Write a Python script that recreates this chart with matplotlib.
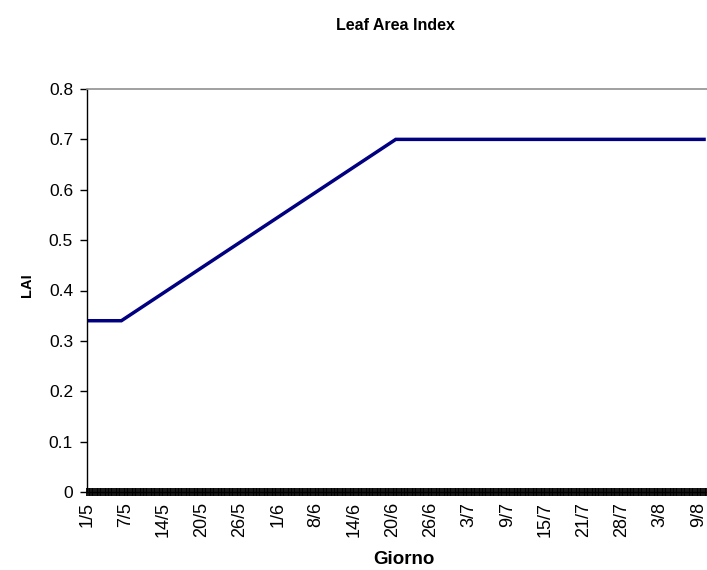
import matplotlib
matplotlib.use("Agg")
import matplotlib.pyplot as plt
import numpy as np

plt.rcParams['font.family'] = ['Liberation Sans', 'DejaVu Sans']

# Tick labels (dates, day/month) placed every 6 categories
date_labels = ["1/5", "7/5", "14/5", "20/5", "26/5", "1/6", "8/6", "14/6",
               "20/6", "26/6", "3/7", "9/7", "15/7", "21/7", "28/7", "3/8", "9/8"]
label_pos = [0, 6, 12, 18, 24, 30, 36, 42, 48, 54, 60, 66, 72, 78, 84, 90, 96]

# LAI curve vertices (category position, LAI)
lai_x = [0.0, 5.4, 48.5, 97.2]
lai_y = [0.34, 0.34, 0.70, 0.70]

yticks = [0, 0.1, 0.2, 0.3, 0.4, 0.5, 0.6, 0.7, 0.8]
ytick_labels = ["0", "0.1", "0.2", "0.3", "0.4", "0.5", "0.6", "0.7", "0.8"]

W, H = 707, 570
fig = plt.figure(figsize=(W / 100, H / 100), dpi=100)
ax = fig.add_axes([87 / W, 1 - 492 / H, (W - 87) / W + 0.01, (492 - 89) / H])

ax.plot(lai_x, lai_y, color="#000080", linewidth=2.5, solid_capstyle="butt",
        solid_joinstyle="miter")

ax.set_xlim(0, 98.5)
ax.set_ylim(0, 0.8)

ax.set_yticks(yticks)
ax.set_yticklabels(ytick_labels, fontsize=12.5)
ax.set_xticks(label_pos)
ax.set_xticklabels(date_labels, rotation=90, fontsize=13)

# dense category tick marks along the x axis
ax.set_xticks(np.arange(0, 98.5, 0.25), minor=True)
ax.tick_params(axis="x", which="both", direction="inout", length=6, width=1.3,
               color="black", pad=4)
ax.tick_params(axis="y", which="major", direction="out", length=5, width=1,
               color="black", pad=5)

for s in ["left", "bottom"]:
    ax.spines[s].set_color("black")
    ax.spines[s].set_linewidth(1)
ax.spines["top"].set_color("#909090")
ax.spines["top"].set_linewidth(1.2)
ax.spines["right"].set_visible(False)

fig.text(395 / W, 1 - 25 / H, "Leaf Area Index", ha="center", va="center",
         fontsize=11.5, fontweight="bold")
fig.text(404 / W, 1 - 559 / H, "Giorno", ha="center", va="center",
         fontsize=13.5, fontweight="bold")
fig.text(27 / W, 1 - 285 / H, "LAI", ha="center", va="center",
         fontsize=10.5, fontweight="bold", rotation=90)

fig.savefig("out.png", dpi=100)
